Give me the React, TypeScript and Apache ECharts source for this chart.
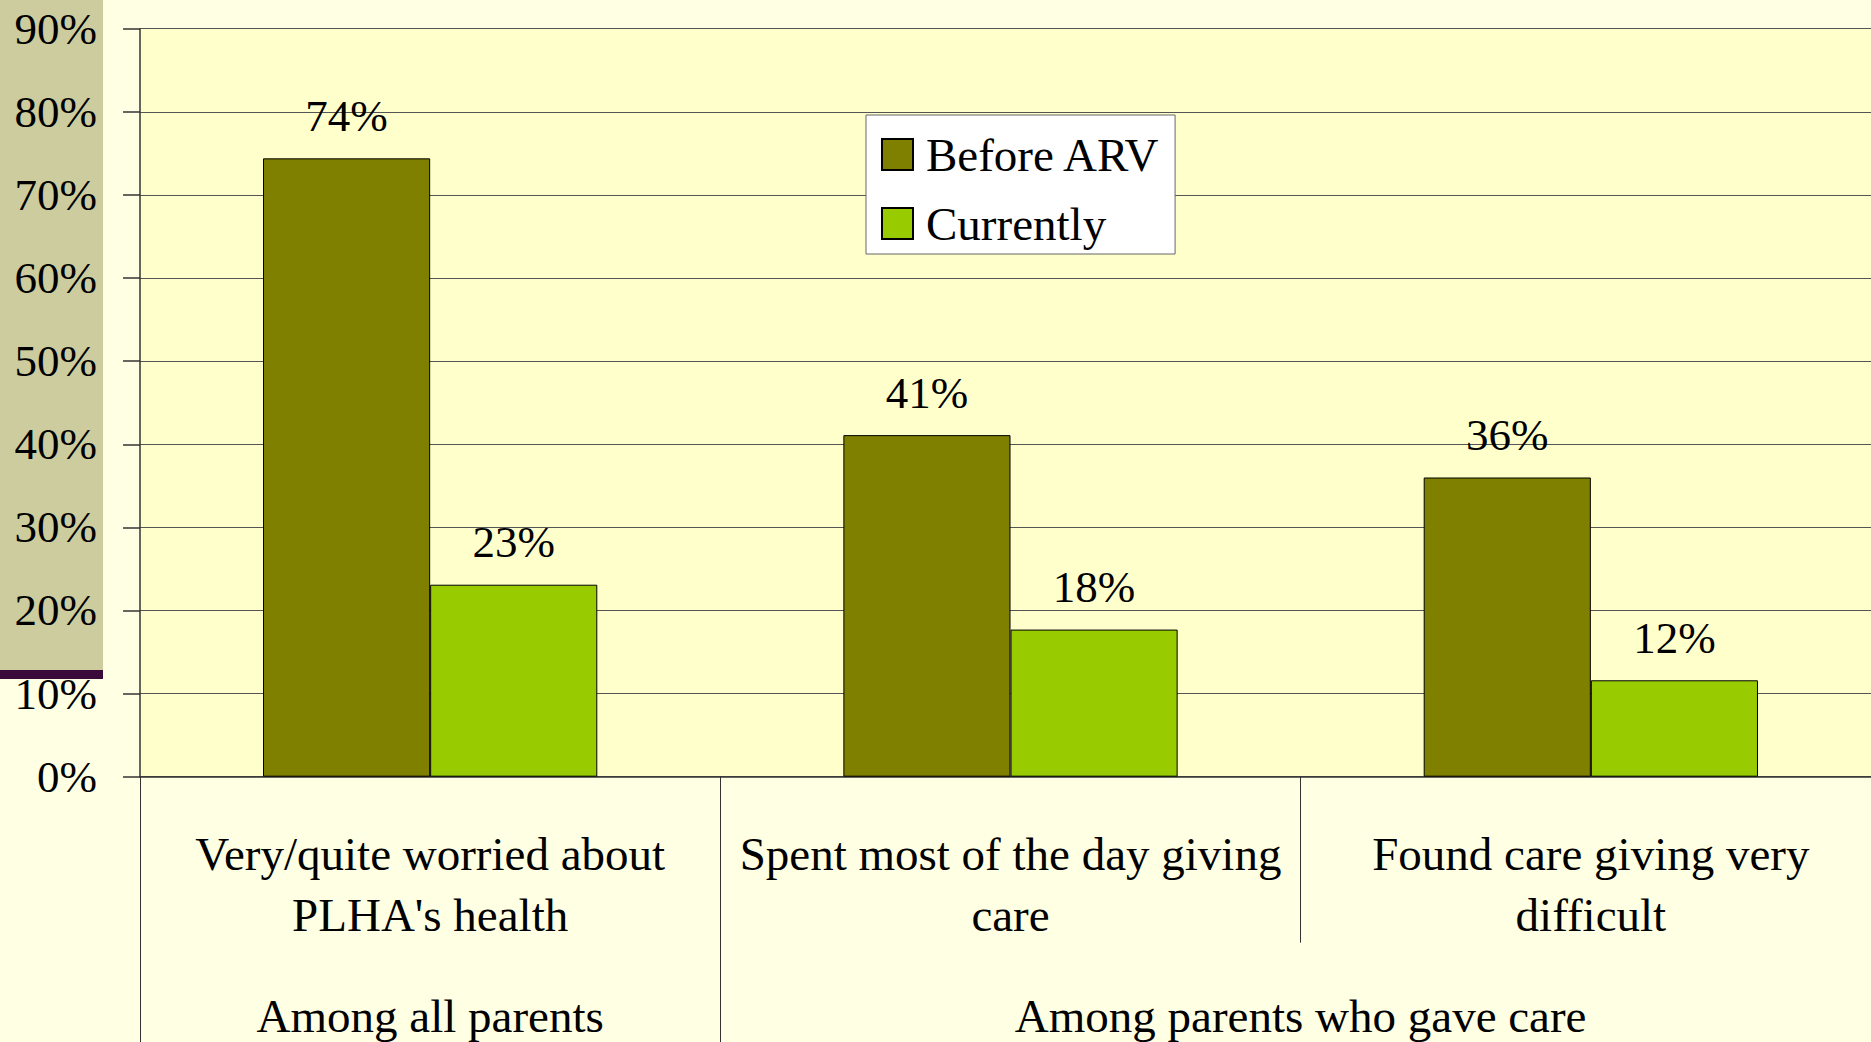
import React, { useEffect, useRef } from "react";
import * as echarts from "echarts";

const categories = [
  "Very/quite worried about\nPLHA's health",
  "Spent most of the day giving\ncare",
  "Found care giving very\ndifficult",
];
const groupLabels = ["Among all parents", "Among parents who gave care"];
const groupCenters = [0.5, 2];
const groupBoundaries = [0, 1];
const seriesNames = ["Before ARV", "Currently"];
const beforeARV = [74.4, 41.1, 36.0];
const currently = [23.1, 17.7, 11.6];

const FONT = "'Liberation Serif', 'Times New Roman', serif";

export default function App() {
  const ref = useRef<HTMLDivElement>(null);
  useEffect(() => {
    if (!ref.current) return;
    const chart = echarts.init(ref.current, null, { renderer: "svg" });
    const labelCfg = {
      show: true,
      position: "top",
      distance: 20,
      fontFamily: FONT,
      fontSize: 45,
      color: "#000",
      formatter: (p: any) => Math.round(p.value) + "%",
    };
    chart.setOption({
      animation: false,
      backgroundColor: "#FFFFE3",
      textStyle: { fontFamily: FONT },
      graphic: [
        {
          type: "rect",
          z: -1,
          shape: { x: 0, y: 0, width: 103, height: 670 },
          style: { fill: "#CCCC9E" },
        },
        {
          type: "rect",
          z: -1,
          shape: { x: 0, y: 670, width: 103, height: 9 },
          style: { fill: "#3A0A3A" },
        },
      ],
      grid: {
        left: 140,
        top: 28.7,
        bottom: 265.3,
        right: -10,
        show: true,
        backgroundColor: "#FFFFCC",
        borderWidth: 0,
        containLabel: false,
        outerBoundsMode: "none",
      },
      legend: {
        orient: "vertical",
        left: 866,
        top: 115,
        data: seriesNames,
        itemWidth: 31,
        itemHeight: 31,
        itemGap: 22,
        icon: "rect",
        padding: [16, 14, 7, 15],
        backgroundColor: "#FFFFFF",
        borderColor: "#666",
        borderWidth: 1,
        textStyle: {
          fontFamily: FONT,
          fontSize: 47,
          lineHeight: 47,
          color: "#000",
          padding: [0, 0, 0, 8],
        },
      },
      xAxis: [
        {
          type: "category",
          data: categories,
          position: "bottom",
          axisLine: { show: true, lineStyle: { color: "#333", width: 1.5 } },
          axisTick: {
            show: true,
            interval: 0,
            length: 166,
            lineStyle: { color: "#333", width: 1 },
          },
          axisLabel: {
            interval: 0,
            margin: 47,
            fontFamily: FONT,
            fontSize: 47,
            lineHeight: 61,
            color: "#000",
            align: "center",
          },
          splitLine: { show: false },
        },
        {
          type: "value",
          min: 0,
          max: 3,
          position: "bottom",
          axisLine: { show: false },
          axisTick: {
            show: true,
            customValues: groupBoundaries,
            length: 280,
            lineStyle: { color: "#333", width: 1 },
          },
          axisLabel: {
            show: true,
            customValues: groupCenters,
            margin: 216,
            fontFamily: FONT,
            fontSize: 47,
            lineHeight: 47,
            color: "#000",
            formatter: (v: number) => {
              const i = groupCenters.indexOf(v);
              return i >= 0 ? groupLabels[i] : "";
            },
          },
          splitLine: { show: false },
        },
      ],
      yAxis: {
        type: "value",
        min: 0,
        max: 90,
        interval: 10,
        axisLine: { show: true, lineStyle: { color: "#333", width: 1.5 } },
        axisTick: {
          show: true,
          length: 17,
          lineStyle: { color: "#333", width: 1.5 },
        },
        axisLabel: {
          margin: 43,
          fontFamily: FONT,
          fontSize: 45,
          color: "#000",
          padding: [10, 0, 0, 0],
          formatter: "{value}%",
        },
        splitLine: { show: true, lineStyle: { color: "#555", width: 1 } },
      },
      series: [
        {
          name: seriesNames[0],
          type: "bar",
          data: beforeARV,
          barGap: "0%",
          barCategoryGap: "42.4%",
          itemStyle: { color: "#808000", borderColor: "#000", borderWidth: 1 },
          label: labelCfg,
        },
        {
          name: seriesNames[1],
          type: "bar",
          data: currently,
          barGap: "0%",
          barCategoryGap: "42.4%",
          itemStyle: { color: "#99CC00", borderColor: "#000", borderWidth: 1 },
          label: labelCfg,
        },
      ],
    });
    return () => chart.dispose();
  }, []);
  return (
    <div
      ref={ref}
      style={{ position: "fixed", left: 0, top: 0, width: 1871, height: 1042 }}
    />
  );
}
